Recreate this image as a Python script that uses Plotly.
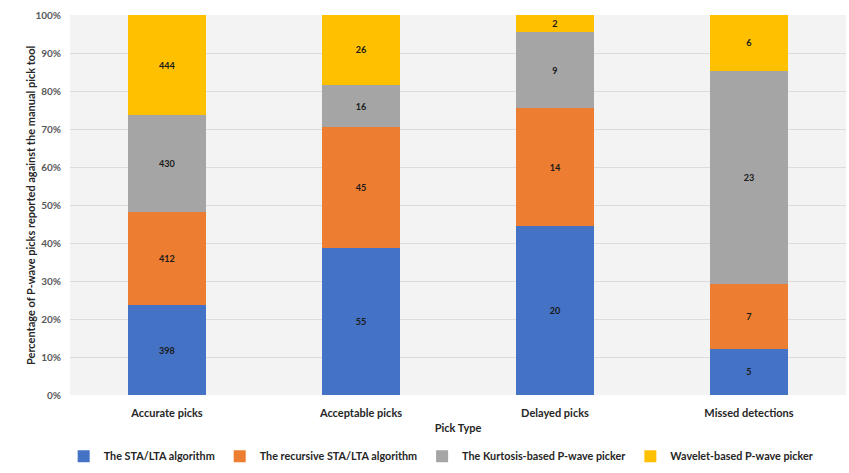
import plotly.graph_objects as go

categories = ["Accurate picks", "Acceptable picks", "Delayed picks", "Missed detections"]
series_names = ["The STA/LTA algorithm", "The recursive STA/LTA algorithm",
                "The Kurtosis-based P-wave picker", "Wavelet-based P-wave picker"]
sta_lta = [398, 55, 20, 5]
recursive = [412, 45, 14, 7]
kurtosis = [430, 16, 9, 23]
wavelet = [444, 26, 2, 6]
colors = ["#4472C4", "#ED7D31", "#A5A5A5", "#FFC000"]
y_ticks = [0, 10, 20, 30, 40, 50, 60, 70, 80, 90, 100]

all_series = [sta_lta, recursive, kurtosis, wavelet]
totals = [sum(s[i] for s in all_series) for i in range(len(categories))]

fig = go.Figure()
for name, vals, col in zip(series_names, all_series, colors):
    pct = [v / t * 100 for v, t in zip(vals, totals)]
    fig.add_trace(go.Bar(
        x=categories, y=pct, name=name, marker=dict(color=col, line=dict(width=0)),
        text=[str(v) for v in vals], textposition="inside", insidetextanchor="middle",
        textfont=dict(family="Lato", size=10, color="#1a1a1a", weight="bold"),
        textangle=0, hoverinfo="skip",
    ))

fig.update_layout(
    barmode="stack", bargap=0.6,
    width=849, height=473,
    margin=dict(l=70, r=3, t=15, b=78, autoexpand=False),
    paper_bgcolor="white", plot_bgcolor="#f3f3f3",
    font=dict(family="Lato", color="#404040"),
    showlegend=True,
    legend=dict(orientation="h", x=0.075, xref="container", xanchor="left",
                y=0.005, yref="container", yanchor="bottom",
                font=dict(size=10.8, color="#262626", weight="bold"),
                traceorder="normal", itemwidth=30, tracegroupgap=0),
    uniformtext=dict(minsize=8, mode="show"),
    annotations=[dict(text="Percentage of P-wave picks reported against the manual pick tool",
                      xref="paper", yref="paper", x=-0.0515, y=0.5, xanchor="center", yanchor="middle",
                      textangle=-90, showarrow=False,
                      font=dict(size=11, color="#262626", weight="bold"))],
)
fig.update_xaxes(title=dict(text="Pick Type", font=dict(size=11, color="#262626", weight="bold"), standoff=6),
                 tickfont=dict(size=11, color="#262626", weight="bold"), showline=False,
                 ticks="outside", ticklen=8, tickcolor="rgba(0,0,0,0)", showgrid=False, automargin=False)
fig.update_yaxes(range=[0, 100], tickvals=y_ticks, ticktext=[f"{t}%" for t in y_ticks],
                 tickfont=dict(size=10, color="#595959", weight="bold"), gridcolor="#dcdcdc", gridwidth=1,
                 zeroline=False, showline=False, ticks="outside", ticklen=6, tickcolor="rgba(0,0,0,0)",
                 automargin=False)

fig.write_html("out.html")
